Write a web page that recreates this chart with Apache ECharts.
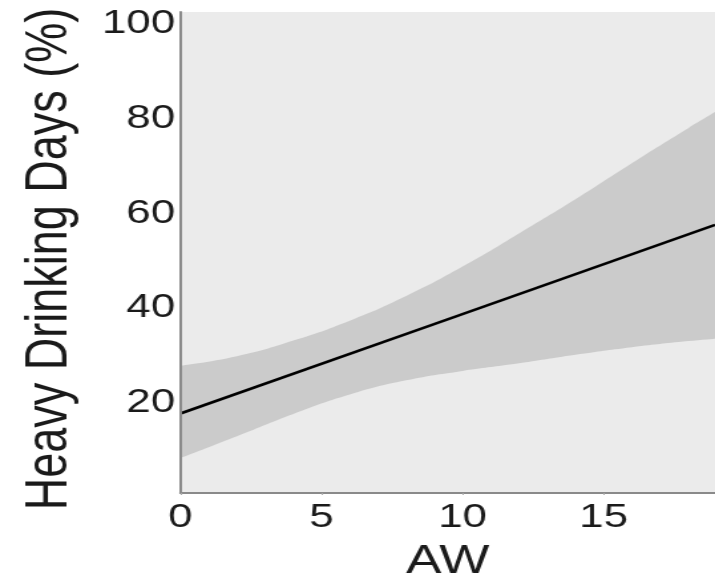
<!DOCTYPE html>
<html>
<head>
<meta charset="utf-8">
<script src="https://cdn.jsdelivr.net/npm/echarts@6/dist/echarts.min.js"></script>
<style>
  html, body { margin: 0; padding: 0; background: #ffffff; overflow: hidden; }
  #wrap { width: 715px; height: 587px; overflow: hidden; position: relative; }
  #chart { width: 538px; height: 587px; transform: scaleX(1.329); transform-origin: 0 0; }
</style>
</head>
<body>
<div id="wrap"><div id="chart"></div></div>
<script>
// ---- data ----
const awValues   = [0, 2, 4, 6, 8, 10, 12, 14, 16, 18, 18.95];
const lowerCI    = [8.4, 13.0, 17.7, 21.8, 24.8, 26.8, 28.4, 30.2, 31.8, 33.1, 33.6];
const upperCI    = [27.9, 29.9, 33.2, 37.4, 42.6, 48.8, 55.8, 63.0, 70.6, 78.0, 81.4];
const fitX       = [0, 9.67, 18.95];
const fitY       = [17.8, 38.1, 57.6];
const xTicks     = [0, 5, 10, 15];
const yTicks     = [20, 40, 60, 80, 100];
const xTitle     = 'AW';
const yTitle     = 'Heavy Drinking Days (%)';

const PANEL = '#ebebeb';
const RIBBON = '#cbcbcb';
const upperData = awValues.map((x, i) => [x, upperCI[i]]);
const lowerData = awValues.map((x, i) => [x, lowerCI[i]]);
const fitData   = fitX.map((x, i) => [x, fitY[i]]);

const FONT = 'Liberation Sans, Arial, sans-serif';
const chart = echarts.init(document.getElementById('chart'), null, { renderer: 'canvas' });
chart.setOption({
  animation: false,
  backgroundColor: '#ffffff',
  grid: {
    left: 135.8, right: 0, top: 12, bottom: 88,
    show: true, backgroundColor: PANEL, borderWidth: 0
  },
  xAxis: {
    type: 'value', min: 0, max: 18.95, z: 10,
    name: xTitle, nameLocation: 'middle', nameGap: 49,
    nameTextStyle: { fontFamily: FONT, fontSize: 40, color: '#1a1a1a' },
    axisLine: { show: true, lineStyle: { color: '#8a8a8a', width: 2 } },
    axisTick: { show: true, length: 2, lineStyle: { color: '#aaaaaa' }, customValues: xTicks },
    axisLabel: { fontFamily: FONT, fontSize: 33, color: '#1a1a1a', margin: 8, customValues: xTicks },
    splitLine: { show: false }
  },
  yAxis: {
    type: 'value', min: 1.04, max: 102.5, z: 10,
    name: yTitle, nameLocation: 'middle', nameGap: 76, nameRotate: 90,
    nameTextStyle: { fontFamily: FONT, fontSize: 45, color: '#1a1a1a', padding: [0, 13, 0, 0] },
    axisLine: { show: true, lineStyle: { color: '#8a8a8a', width: 2 } },
    axisTick: { show: false },
    axisLabel: { fontFamily: FONT, fontSize: 33, color: '#1a1a1a', margin: 4, customValues: yTicks },
    splitLine: { show: false }
  },
  series: [
    {
      name: 'upper', type: 'line', data: upperData, smooth: true,
      symbol: 'none', lineStyle: { opacity: 0 },
      areaStyle: { color: RIBBON, opacity: 1, origin: 'start' }, silent: true, z: 1
    },
    {
      name: 'lower', type: 'line', data: lowerData, smooth: true,
      symbol: 'none', lineStyle: { opacity: 0 },
      areaStyle: { color: PANEL, opacity: 1, origin: 'start' }, silent: true, z: 2
    },
    {
      name: 'fit', type: 'line', data: fitData, symbol: 'none',
      lineStyle: { color: '#000000', width: 2.6 }, z: 3
    }
  ]
});
</script>
</body>
</html>
